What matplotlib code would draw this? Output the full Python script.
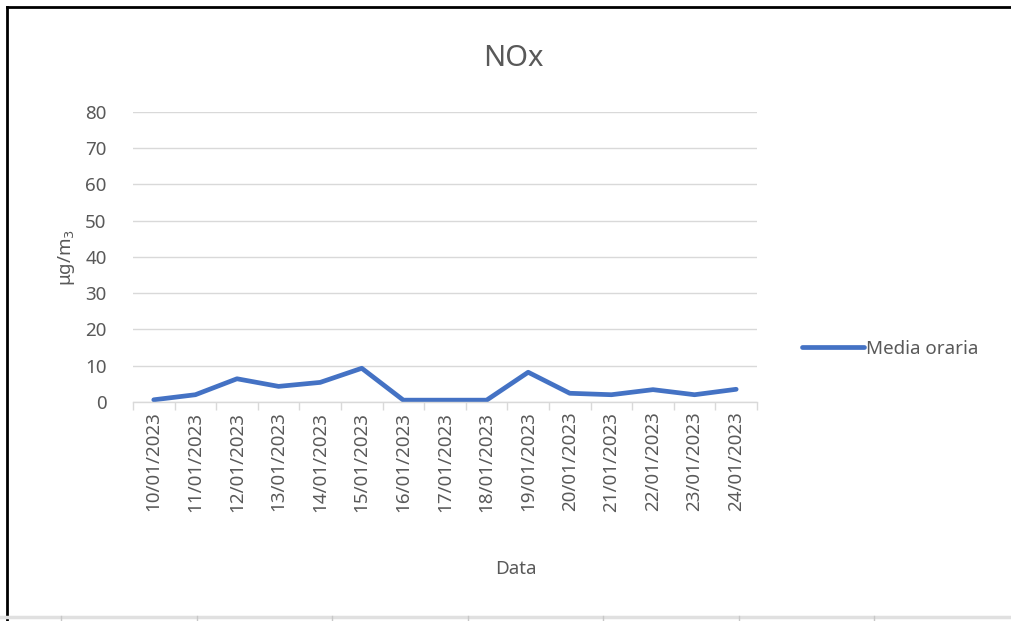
import numpy as np
import matplotlib.pyplot as plt
from matplotlib.lines import Line2D

plt.rcParams['font.family'] = ['Noto Sans', 'DejaVu Sans']

# data
dates = ["10/01/2023", "11/01/2023", "12/01/2023", "13/01/2023", "14/01/2023",
         "15/01/2023", "16/01/2023", "17/01/2023", "18/01/2023", "19/01/2023",
         "20/01/2023", "21/01/2023", "22/01/2023", "23/01/2023", "24/01/2023"]
media_oraria = [0.6, 2.0, 6.4, 4.3, 5.4, 9.3, 0.5, 0.5, 0.5, 8.2, 2.4, 2.0, 3.4, 2.0, 3.5]
y_ticks = [0, 10, 20, 30, 40, 50, 60, 70, 80]

GRAY_TXT = '#595959'
GRID = '#d9d9d9'
BLUE = '#4472c4'

fig = plt.figure(figsize=(10.12, 6.21), dpi=100)
ax = fig.add_axes([0.1314, 0.3527, 0.6166, 0.467])

x = np.arange(len(dates))
ax.plot(x, media_oraria, color=BLUE, lw=3.4, solid_capstyle='round',
        solid_joinstyle='round', label='Media oraria')

ax.set_xlim(-0.5, len(dates) - 0.5)
ax.set_ylim(0, 80)
ax.set_yticks(y_ticks)
ax.set_xticks(x)
ax.set_xticklabels(dates, rotation=90)
ax.set_xticks(np.arange(len(dates) + 1) - 0.5, minor=True)

ax.tick_params(axis='y', length=0, pad=19, labelsize=13.5, labelcolor=GRAY_TXT)
ax.tick_params(axis='x', which='major', length=0, pad=7, labelsize=13.5, labelcolor=GRAY_TXT)
ax.tick_params(axis='x', which='minor', length=6, color=GRID, width=1)

ax.grid(axis='y', color=GRID, lw=1)
ax.set_axisbelow(True)
for side in ['top', 'right', 'left']:
    ax.spines[side].set_visible(False)
ax.spines['bottom'].set_color(GRID)
ax.spines['bottom'].set_linewidth(1)

ax.set_ylabel("μg/m$_3$", fontsize=13.5, color=GRAY_TXT, labelpad=6)

fig.text(0.507, 0.905, "NOx", ha='center', va='center', fontsize=21, color=GRAY_TXT)
fig.text(0.51, 0.083, "Data", ha='center', va='center', fontsize=13.5, color=GRAY_TXT)

leg = fig.legend(handles=[Line2D([], [], color=BLUE, lw=3.4, solid_capstyle='round')],
                 labels=['Media oraria'], loc='center left',
                 bbox_to_anchor=(0.785, 0.438), frameon=False, fontsize=13.5,
                 handlelength=3.3, handletextpad=0.1, borderaxespad=0)
for t in leg.get_texts():
    t.set_color(GRAY_TXT)

# frame of the chart box (top and left edges visible in the screenshot)
fig.add_artist(Line2D([0.0069, 1.0], [0.9895, 0.9895], color='black', lw=2))
fig.add_artist(Line2D([0.0069, 0.0069], [0.0, 0.9895], color='black', lw=2))
# spreadsheet row line at the bottom
fig.add_artist(Line2D([0.0, 1.0], [0.006, 0.006], color='#e0e0e0', lw=2.5))
for cx in [61, 197, 332, 468, 603, 739, 874]:
    fig.add_artist(Line2D([cx / 1012, cx / 1012], [0.0, 0.008], color='#c8c8c8', lw=1))

fig.savefig("out.png", dpi=100, facecolor='white')
